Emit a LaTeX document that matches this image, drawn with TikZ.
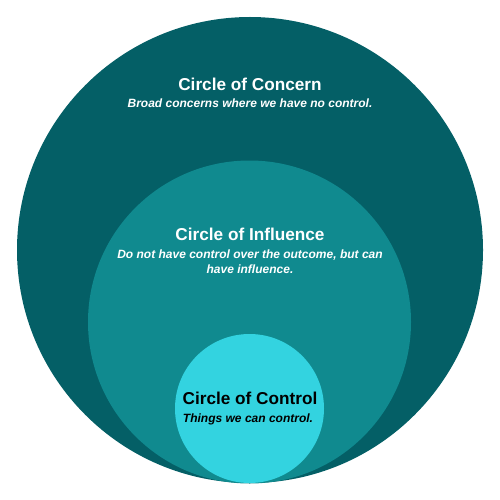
\documentclass[tikz,border=0pt]{standalone}
\usepackage{fontspec}
\setmainfont{Liberation Sans}
\definecolor{concern}{RGB}{4,95,102}
\definecolor{influence}{RGB}{16,138,143}
\definecolor{control}{RGB}{51,211,224}
\begin{document}
\begin{tikzpicture}[x=1pt,y=-1pt,
  titletext/.style={anchor=base,inner sep=0pt,font=\fontsize{17.2}{20}\selectfont\bfseries},
  subtext/.style={anchor=base,inner sep=0pt,font=\fontsize{12}{15}\selectfont\bfseries\itshape}]
\path[use as bounding box] (0,0) rectangle (500,500);
\fill[concern] (250,250) circle[radius=233];
\fill[influence] (249.5,322) circle[radius=161.5];
\fill[control] (249.5,408.5) circle[radius=74.5];
\node[titletext,text=white] (t1) at (250,90.5) {Circle of Concern};
\node[subtext,text=white] (s1) at (250,107) {Broad concerns where we have no control.};
\node[titletext,text=white] (t2) at (250,240.5) {Circle of Influence};
\node[subtext,text=white] (s2a) at (250,258) {Do not have control over the outcome, but can};
\node[subtext,text=white] (s2b) at (250,273.5) {have influence.};
\node[titletext,text=black] (t3) at (250,404.5) {Circle of Control};
\node[subtext,text=black] (s3) at (248,422.5) {Things we can control.};
\end{tikzpicture}
\end{document}
